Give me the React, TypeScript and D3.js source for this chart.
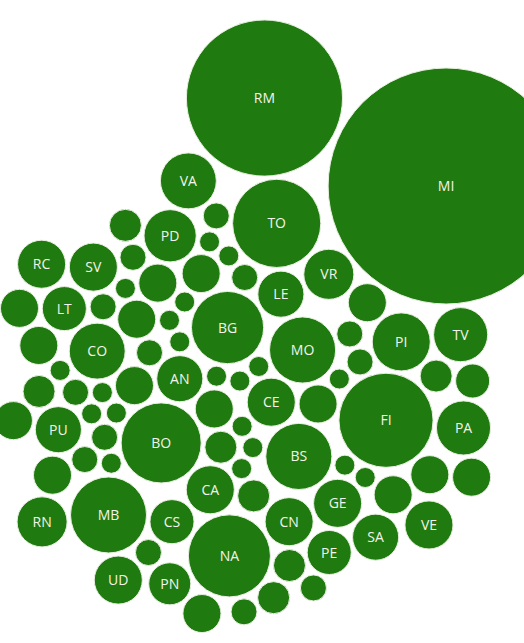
import React, { useMemo } from "react";
import * as d3 from "d3";

const WIDTH = 524;
const HEIGHT = 643;

// Province codes (labeled bubbles first, then the small unlabeled ones)
const provinces: string[] = [
  "MI", "RM", "FI", "TO", "NA", "BO", "MB", "BG", "MO", "BS",
  "PI", "CO", "VA", "PA", "TV", "PD", "RN", "VR", "GE", "CE",
  "VE", "SV", "CN", "CA", "UD", "RC", "AN", "PU", "SA", "LE",
  "PE", "LT", "CS", "PN",
  "BA", "CT", "VI", "BZ", "TN", "PG", "BR", "FG", "TA", "AL",
  "ME", "PV", "SS", "TS", "PR", "RE",
  "LU", "AR", "SI", "LI", "PO", "RA", "FE",
  "CR", "MN", "LC", "SP", "IM", "NO", "AP", "MC", "PC", "RO",
  "TR", "VT", "FC",
  "AG", "AO", "AQ", "AT", "AV", "BI", "BL", "BN", "BT", "CB",
  "CH", "CL", "CZ", "EN", "FM", "FR", "GO", "GR", "IS", "KR",
];

// Bubble values (area-proportional)
const values: number[] = [
  13900, 6080, 2210, 1940, 1680, 1600, 1440, 1300, 1090, 1090,
  840, 780, 780, 730, 730, 680, 625, 625, 576, 576,
  576, 576, 576, 576, 576, 576, 530, 530, 530, 530,
  484, 484, 484, 441,
  361, 361, 361, 361, 361, 361, 361, 361, 361, 361,
  361, 361, 361, 361, 361, 289,
  256, 256, 256, 256, 256, 256, 256,
  169, 169, 169, 169, 169, 169, 169, 169, 169, 169,
  169, 169, 169,
  100, 100, 100, 100, 100, 100, 100, 100, 100, 100,
  100, 100, 100, 100, 100, 100, 100, 100, 100, 100,
];

const LABEL_MIN_R = 20;
const MAX_R = 118;
const GAP = 1.9;

type Node = d3.SimulationNodeDatum & { name: string; value: number; r: number };

export default function App() {
  const nodes = useMemo(() => {
    const rScale = d3
      .scaleSqrt()
      .domain([0, d3.max(values) as number])
      .range([0, MAX_R]);
    const all: Node[] = provinces.map((name, i) => ({
      name,
      value: values[i],
      r: rScale(values[i]),
    }));

    // the two largest bubbles are anchored along the top edge
    const bySize = all.slice().sort((a, b) => d3.descending(a.value, b.value));
    const [first, second] = bySize;
    first.fx = WIDTH - first.r * 0.66;
    first.fy = first.r + 68;
    second.fy = second.r + 20;
    const dy = first.fy - second.fy;
    const dist = first.r + second.r + GAP * 2 + 2;
    second.fx = first.fx - Math.sqrt(dist * dist - dy * dy);

    // the rest are packed below them in alphabetical order
    const rest = all
      .filter((d) => d !== first && d !== second)
      .sort((a, b) => d3.ascending(a.name, b.name));
    const cx = 240;
    const cy = 393;
    const golden = Math.PI * (3 - Math.sqrt(5));
    rest.forEach((d, i) => {
      const rad = 24 * Math.sqrt(i + 0.5);
      d.x = cx + rad * Math.cos(i * golden);
      d.y = cy + rad * Math.sin(i * golden);
    });

    const sim = d3
      .forceSimulation<Node>(all)
      .force("x", d3.forceX<Node>(cx).strength(0.035))
      .force("y", d3.forceY<Node>(cy).strength(0.04))
      .force(
        "collide",
        d3.forceCollide<Node>((d) => d.r + GAP).strength(1).iterations(4)
      )
      .stop();
    for (let i = 0; i < 600; i++) sim.tick();
    all.forEach((d) => {
      if (d.fx != null) d.x = d.fx;
      if (d.fy != null) d.y = d.fy;
    });
    return all;
  }, []);

  return (
    <div style={{ position: "absolute", left: 0, top: 0 }}>
      <svg width={WIDTH} height={HEIGHT} style={{ display: "block", background: "#fff" }}>
        {nodes.map((d) => (
          <g key={d.name} transform={`translate(${d.x},${d.y})`}>
            <circle r={d.r} fill="#1f7a0f" stroke="#e8f0e0" strokeWidth={1} />
            {d.r >= LABEL_MIN_R && (
              <text
                textAnchor="middle"
                dy="0.36em"
                fill="#f4f4ea"
                fontFamily="'Open Sans', 'Noto Sans', sans-serif"
                fontSize={14}
              >
                {d.name}
              </text>
            )}
          </g>
        ))}
      </svg>
    </div>
  );
}
